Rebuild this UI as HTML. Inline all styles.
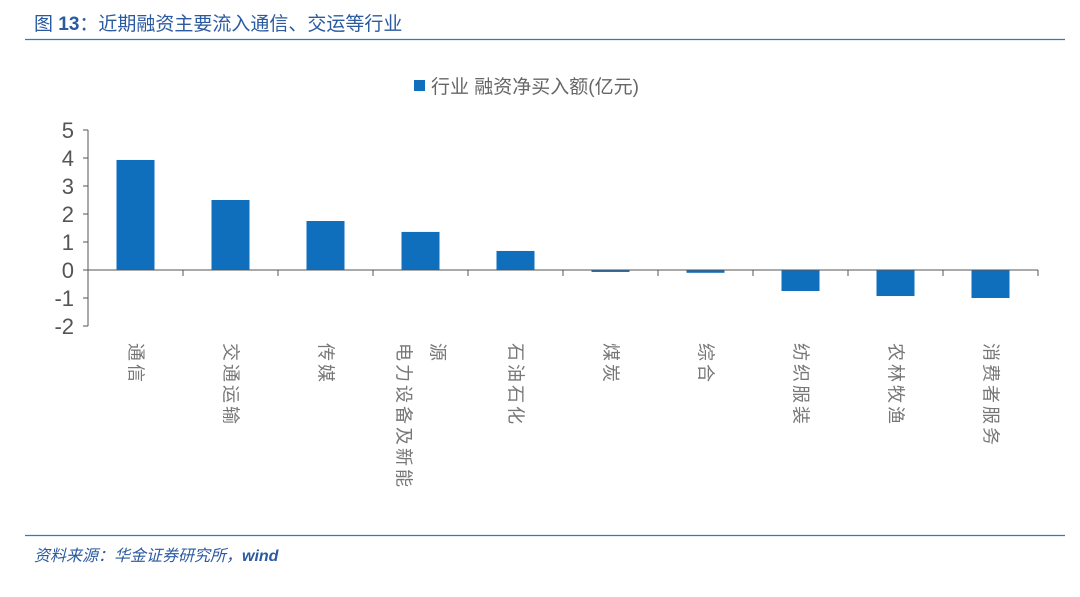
<!DOCTYPE html>
<html><head><meta charset="utf-8"><style>
body{margin:0;background:#fff;width:1080px;height:592px;overflow:hidden;}
svg text{font-family:"Liberation Sans","Noto Sans CJK SC",sans-serif;}
</style></head><body>
<svg width="1080" height="592">
<text x="34" y="30" font-size="19" fill="#2a5aa0">图 <tspan font-weight="bold">13</tspan>：近期融资主要流入通信、交运等行业</text>
<line x1="25" y1="39.5" x2="1065" y2="39.5" stroke="#3f74b8" stroke-width="1.3"/>
<rect x="414" y="80" width="11" height="11" fill="#0f6fbd"/>
<text x="431" y="93" font-size="19" fill="#666">行业 融资净买入额(亿元)</text>
<g id="plot"></g>
<line x1="25" y1="535.5" x2="1065" y2="535.5" stroke="#3f74b8" stroke-width="1.3"/>
<text x="34" y="561" font-size="16" font-style="italic" fill="#2a5aa0">资料来源：华金证券研究所，<tspan font-weight="bold">wind</tspan></text>
</svg>
<script>
const categories=["通信","交通运输","传媒","电力设备及新能源","石油石化","煤炭","综合","纺织服装","农林牧渔","消费者服务"];
const labelLines=[["通信"],["交通运输"],["传媒"],["电力设备及新能","源"],["石油石化"],["煤炭"],["综合"],["纺织服装"],["农林牧渔"],["消费者服务"]];
const values=[3.93,2.5,1.75,1.36,0.68,-0.07,-0.1,-0.75,-0.93,-1.0];
const yTicks=[5,4,3,2,1,0,-1,-2];
const NS="http://www.w3.org/2000/svg";
const g=document.getElementById('plot');
const x0=88,x1=1038,yTop=130,yBot=326,yMax=5,yMin=-2;
const y=v=>yTop+(yMax-v)/(yMax-yMin)*(yBot-yTop);
const bw=(x1-x0)/categories.length;
function mk(t,a){const e=document.createElementNS(NS,t);for(const k in a)e.setAttribute(k,a[k]);g.appendChild(e);return e;}
let ax=mk('line',{x1:x0,y1:yTop,x2:x0,y2:yBot,stroke:'#555','stroke-width':1});


yTicks.forEach(t=>{
 let l=mk('line',{x1:x0-5,y1:y(t),x2:x0,y2:y(t),stroke:'#555'});
 
 
 let tx=mk('text',{x:x0-14,y:y(t)+8,'font-size':22,fill:'#555','text-anchor':'end'});
 tx.textContent=t;
 
 
});
values.forEach((v,i)=>{
 const cx=x0+bw*(i+0.5);
 let r=mk('rect',{x:cx-19,y:Math.min(y(v),y(0)),width:38,height:Math.abs(y(v)-y(0)),fill:'#0f6fbd'});
 
 
 const n=labelLines[i].length;
 labelLines[i].forEach((ln,j)=>{
  const off=-6+(j-(n-1)/2)*34;
  let t=mk('text',{x:0,y:0,'font-size':18,fill:'#777',transform:`translate(${cx+off},343) rotate(90)`});
  t.setAttribute('letter-spacing','3');
  t.textContent=ln;
  
  
 });
});
let xa=mk('line',{x1:x0,y1:y(0),x2:x1,y2:y(0),stroke:'#555'});


for(let i=1;i<=categories.length;i++){
 let l=mk('line',{x1:x0+bw*i,y1:y(0),x2:x0+bw*i,y2:y(0)+6,stroke:'#555'});
 
 
}
</script>
</body></html>
